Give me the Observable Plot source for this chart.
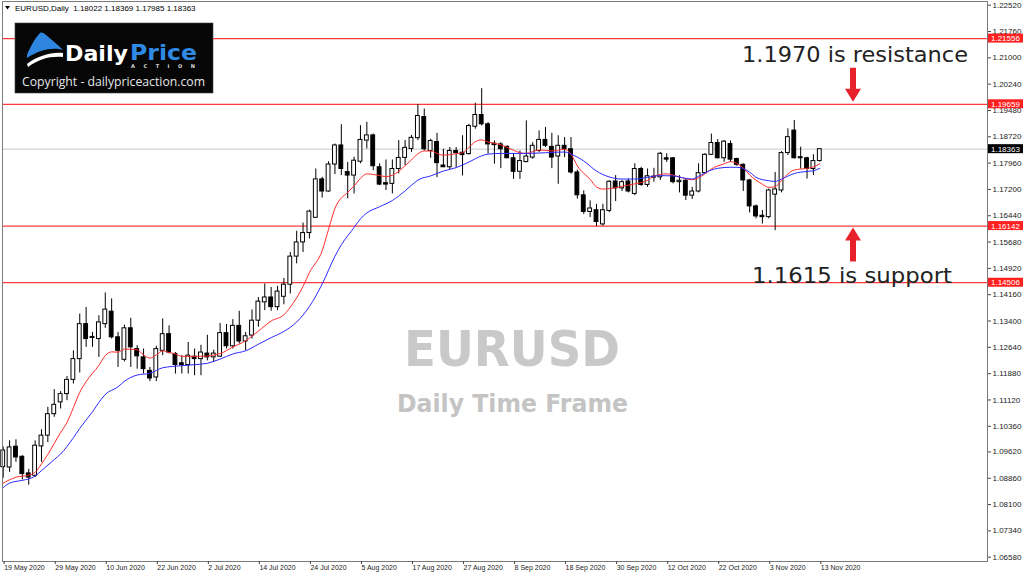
<!DOCTYPE html>
<html><head><meta charset="utf-8">
<script src="https://cdn.jsdelivr.net/npm/d3@7"></script>
<script src="https://cdn.jsdelivr.net/npm/@observablehq/plot@0.6"></script>
<style>body{margin:0;background:#fff;} #chart{width:1024px;height:577px;overflow:hidden}</style>
</head><body><div id="chart"></div>
<script>
// ---- Data (EURUSD daily, 19 May 2020 - 13 Nov 2020) ----
const openP  = [1.0918,1.0917,1.0977,1.0948,1.0900,1.0893,1.0978,1.1009,1.1071,1.1105,1.1129,1.1170,1.1230,1.1331,1.1291,1.1288,1.1331,1.1367,1.1293,1.1228,1.1319,1.1259,1.1235,1.1196,1.1177,1.1254,1.1302,1.1245,1.1218,1.1213,1.1237,1.1230,1.1246,1.1235,1.1237,1.1305,1.1267,1.1326,1.1281,1.1298,1.1341,1.1394,1.1408,1.1380,1.1410,1.1445,1.1526,1.1567,1.1594,1.1638,1.1749,1.1714,1.1792,1.1847,1.1770,1.1760,1.1800,1.1861,1.1876,1.1784,1.1738,1.1736,1.1779,1.1811,1.1837,1.1868,1.1929,1.1831,1.1857,1.1789,1.1784,1.1831,1.1826,1.1822,1.1901,1.1935,1.1908,1.1852,1.1850,1.1843,1.1810,1.1771,1.1799,1.1812,1.1831,1.1863,1.1843,1.1815,1.1846,1.1836,1.1769,1.1703,1.1655,1.1660,1.1619,1.1658,1.1743,1.1723,1.1743,1.1707,1.1779,1.1733,1.1754,1.1755,1.1810,1.1810,1.1741,1.1745,1.1702,1.1714,1.1767,1.1820,1.1854,1.1810,1.1851,1.1808,1.1791,1.1746,1.1671,1.1644,1.1640,1.1705,1.1717,1.1825,1.1890,1.1813,1.1810,1.1779,1.18022];
const highP  = [1.0976,1.0994,1.0997,1.0951,1.0912,1.0994,1.1026,1.1091,1.1142,1.1136,1.1180,1.1254,1.1360,1.1379,1.1307,1.1355,1.1421,1.1404,1.1307,1.1328,1.1348,1.1269,1.1259,1.1206,1.1267,1.1346,1.1326,1.1249,1.1240,1.1278,1.1259,1.1270,1.1299,1.1256,1.1333,1.1330,1.1344,1.1368,1.1307,1.1372,1.1408,1.1447,1.1437,1.1440,1.1463,1.1538,1.1599,1.1623,1.1660,1.1779,1.1755,1.1800,1.1851,1.1907,1.1798,1.1813,1.1904,1.1914,1.1880,1.1794,1.1805,1.1805,1.1861,1.1861,1.1876,1.1965,1.1952,1.1865,1.1882,1.1836,1.1841,1.1841,1.1875,1.1908,1.1969,1.2011,1.1913,1.1860,1.1855,1.1846,1.1822,1.1831,1.1918,1.1855,1.1889,1.1899,1.1882,1.1875,1.1870,1.1870,1.1776,1.1716,1.1687,1.1677,1.1677,1.1745,1.1760,1.1746,1.1750,1.1794,1.1784,1.1779,1.1781,1.1827,1.1823,1.1812,1.1760,1.1750,1.1726,1.1794,1.1823,1.1880,1.1864,1.1861,1.1860,1.1810,1.1794,1.1749,1.1675,1.1659,1.1721,1.1769,1.1829,1.1895,1.1919,1.1842,1.1813,1.1820,1.18369];
const lowP   = [1.0886,1.0903,1.0932,1.0881,1.0866,1.0888,1.0932,1.0989,1.1062,1.1086,1.1110,1.1158,1.1190,1.1264,1.1264,1.1235,1.1319,1.1288,1.1206,1.1222,1.1206,1.1201,1.1187,1.1165,1.1165,1.1240,1.1245,1.1187,1.1187,1.1187,1.1182,1.1182,1.1225,1.1220,1.1235,1.1259,1.1259,1.1274,1.1254,1.1288,1.1322,1.1370,1.1368,1.1370,1.1387,1.1418,1.1505,1.1538,1.1577,1.1638,1.1695,1.1712,1.1763,1.1760,1.1693,1.1707,1.1794,1.1837,1.1774,1.1731,1.1717,1.1707,1.1765,1.1789,1.1827,1.1861,1.1831,1.1810,1.1754,1.1783,1.1776,1.1783,1.1759,1.1819,1.1894,1.1903,1.1822,1.1793,1.1780,1.1809,1.1749,1.1749,1.1797,1.1807,1.1826,1.1841,1.1780,1.1735,1.1812,1.1764,1.1692,1.1648,1.1639,1.1613,1.1614,1.1653,1.1685,1.1714,1.1710,1.1702,1.1729,1.1726,1.1741,1.1746,1.1798,1.1736,1.1710,1.1688,1.1691,1.1710,1.1765,1.1818,1.1808,1.1798,1.1798,1.1787,1.1714,1.1652,1.1635,1.1620,1.1635,1.1601,1.1710,1.1818,1.1808,1.1779,1.1750,1.1760,1.17985];
const closeP = [1.0966,1.0975,1.0946,1.0898,1.0888,1.0980,1.1009,1.1071,1.1098,1.1129,1.1170,1.1230,1.1331,1.1288,1.1294,1.1336,1.1373,1.1293,1.1254,1.1319,1.1264,1.1238,1.1201,1.1174,1.1259,1.1302,1.1249,1.1213,1.1213,1.1240,1.1230,1.1249,1.1235,1.1246,1.1305,1.1267,1.1326,1.1281,1.1296,1.1341,1.1396,1.1408,1.1380,1.1425,1.1445,1.1526,1.1567,1.1594,1.1656,1.1749,1.1714,1.1792,1.1847,1.1779,1.1760,1.1803,1.1863,1.1876,1.1787,1.1734,1.1734,1.1779,1.1811,1.1840,1.1869,1.1932,1.1836,1.1860,1.1796,1.1784,1.1831,1.1825,1.1819,1.1903,1.1935,1.1908,1.1850,1.1848,1.1836,1.1810,1.1771,1.1802,1.1815,1.1846,1.1863,1.1846,1.1812,1.1846,1.1836,1.1769,1.1703,1.1655,1.1665,1.1626,1.1660,1.1742,1.1723,1.1741,1.1714,1.1779,1.1733,1.1758,1.1757,1.1823,1.1806,1.1741,1.1745,1.1702,1.1714,1.1767,1.1820,1.1854,1.1810,1.1858,1.1806,1.1791,1.1746,1.1671,1.1642,1.1640,1.1717,1.1720,1.1825,1.1871,1.1810,1.1810,1.1779,1.1802,1.18363];

// moving averages read at sampled bars (bar number, price)
const redBar  = [0,2,4,5,6,7,9,10,11,12,13,15,16,17,18,19,21,22,23,24,25,26,27,28,31,34,36,38,40,42,44,45,47,48,50,51,52,54,55,56,57,59,60,62,63,64,65,66,67,68,69,71,72,73,74,75,76,78,80,81,82,84,86,88,89,90,92,93,94,96,97,99,101,102,104,106,108,110,111,113,114,116,117,119,120,121,122,123,124,126,127,128];
const redMA   = [1.0872,1.0889,1.0895,1.0903,1.0927,1.0955,1.1018,1.1047,1.1090,1.1134,1.1165,1.1212,1.1240,1.1251,1.1250,1.1259,1.1257,1.1242,1.1233,1.1242,1.1254,1.1249,1.1245,1.1238,1.1238,1.1246,1.1265,1.1283,1.1311,1.1340,1.1358,1.1380,1.1440,1.1480,1.1543,1.1605,1.1665,1.1712,1.1730,1.1752,1.1765,1.1760,1.1757,1.1772,1.1789,1.1805,1.1823,1.1831,1.1831,1.1824,1.1819,1.1823,1.1826,1.1841,1.1858,1.1863,1.1857,1.1849,1.1833,1.1826,1.1824,1.1834,1.1831,1.1836,1.1822,1.1788,1.1749,1.1727,1.1721,1.1725,1.1729,1.1736,1.1746,1.1758,1.1765,1.1756,1.1748,1.1765,1.1779,1.1794,1.1800,1.1782,1.1762,1.1735,1.1726,1.1728,1.1746,1.1765,1.1776,1.1781,1.1785,1.1794];
const blueBar = [0,1,3,4,5,6,8,9,11,12,14,15,16,18,19,21,23,25,28,30,32,34,36,38,40,42,44,46,48,50,52,53,55,56,57,59,61,63,64,65,67,69,71,73,75,76,78,82,85,88,89,91,93,95,97,99,101,103,105,107,108,109,111,112,114,115,117,118,120,121,122,124,125,127,128];
const blueMA  = [1.0859,1.0872,1.0880,1.0884,1.0892,1.0908,1.0940,1.0956,1.1003,1.1030,1.1078,1.1105,1.1128,1.1150,1.1166,1.1184,1.1189,1.1205,1.1211,1.1214,1.1218,1.1230,1.1245,1.1254,1.1273,1.1292,1.1310,1.1337,1.1382,1.1447,1.1527,1.1560,1.1610,1.1635,1.1652,1.1670,1.1688,1.1716,1.1732,1.1747,1.1759,1.1773,1.1783,1.1799,1.1817,1.1822,1.1824,1.1824,1.1826,1.1828,1.1822,1.1802,1.1773,1.1756,1.1750,1.1750,1.1755,1.1760,1.1759,1.1752,1.1750,1.1758,1.1776,1.1781,1.1784,1.1784,1.1770,1.1755,1.1745,1.1743,1.1750,1.1766,1.1770,1.1774,1.1781];

const tickBars   = [0,8,16,24,32,40,48,56,64,72,80,88,96,104,112,120,128];
const tickLabels = ["19 May 2020","29 May 2020","10 Jun 2020","22 Jun 2020","2 Jul 2020","14 Jul 2020","24 Jul 2020","5 Aug 2020","17 Aug 2020","27 Aug 2020","8 Sep 2020","18 Sep 2020","30 Sep 2020","12 Oct 2020","22 Oct 2020","3 Nov 2020","13 Nov 2020"];
const priceTicks = [1.22520,1.21760,1.21000,1.20240,1.19480,1.18720,1.17960,1.17200,1.16440,1.15680,1.14920,1.14160,1.13400,1.12640,1.11880,1.11120,1.10360,1.09620,1.08860,1.08100,1.07340,1.06580];
const levels     = [1.21556,1.19659,1.16142,1.14506];
const lastPrice  = 1.18363;
const headerText = "EURUSD,Daily  1.18022 1.18369 1.17985 1.18363";

// ---- Build ----
const candles = openP.map((o,i)=>({bar:i,o,h:highP[i],l:lowP[i],c:closeP[i],up:closeP[i]>=o}));
const redPts  = redBar.map((b,k)=>({bar:b,v:redMA[k]}));
const bluePts = blueBar.map((b,k)=>({bar:b,v:blueMA[k]}));

const plot = Plot.plot({
  width:1024, height:577,
  marginLeft:2, marginRight:37, marginTop:1, marginBottom:16,
  x:{domain:[0,128], range:[2.7,819.3], axis:null},
  y:{domain:[1.06580,1.22520], range:[556.7,4.7], axis:null},
  style:{fontFamily:"'Liberation Sans', Arial, sans-serif", background:"#fff", color:"#000", overflow:"visible"},
  marks:[
    Plot.ruleY([lastPrice],{stroke:"#c8c8c8", strokeWidth:1}),
    Plot.ruleY(levels,{stroke:"#ff3a3a", strokeWidth:1.2}),
    Plot.ruleX(candles,{x:"bar", y1:"l", y2:"h", stroke:"#000", strokeWidth:1}),
    Plot.rect(candles,{x1:d=>d.bar-0.3, x2:d=>d.bar+0.3, y1:"o", y2:"c", fill:d=>d.up?"#fff":"#000", stroke:"#000", strokeWidth:1}),
    Plot.line(redPts,{x:"bar", y:"v", stroke:"#ff2b2b", strokeWidth:1, curve:"monotone-x"}),
    Plot.line(bluePts,{x:"bar", y:"v", stroke:"#2b2bff", strokeWidth:1, curve:"monotone-x"}),
    Plot.frame({stroke:"#7a7a7a"}),
    Plot.axisY(priceTicks,{anchor:"right", label:null, tickSize:3, tickPadding:2, tickFormat:d=>d.toFixed(5), fontSize:8, fill:"#222", stroke:"#444"}),
    Plot.axisX(tickBars,{anchor:"bottom", label:null, tickSize:3, tickPadding:1, textAnchor:"start", dx:1, fontSize:7, fill:"#222", stroke:"#444",
      tickFormat:d=>tickLabels[tickBars.indexOf(d)]})
  ]
});
document.getElementById("chart").appendChild(plot);

const ys = plot.scale("y");
const svg = d3.select(plot);
const g = svg.append("g").attr("text-anchor","start");
const SANS = "'Liberation Sans', Arial, sans-serif";
const DEJA = "'DejaVu Sans', sans-serif";

// price label boxes on the right axis
function priceBox(v, bg){
  const yy = ys.apply(v);
  g.append("rect").attr("x",988).attr("y",yy-4.5).attr("width",35).attr("height",9).attr("fill",bg);
  g.append("text").attr("x",991).attr("y",yy+3).attr("text-anchor","start").attr("fill","#fff").attr("font-size",8)
   .attr("font-family",SANS).text(v.toFixed(5));
}
levels.forEach(v=>priceBox(v,"#ff2020"));
priceBox(lastPrice,"#000");

// header
g.append("path").attr("d","M5,6 L10,6 L7.5,9.5 Z").attr("fill","#000");
g.append("text").attr("x",15).attr("y",11).attr("text-anchor","start").attr("font-size",8).attr("fill","#000")
 .attr("font-family",SANS).attr("xml:space","preserve").text(headerText);

// logo
const lg = g.append("g");
lg.append("rect").attr("x",15).attr("y",23).attr("width",198).attr("height",70).attr("fill","#060606").attr("stroke","#444").attr("stroke-width",0.6);
lg.append("path").attr("d","M27,55 C31,45 36,37 40,33 C42,32 44,33 46,35 C52,40 58,45 63,50 C54,47 40,49 27,58 Z").attr("fill","#2f86e0");
lg.append("path").attr("d","M27,64 C38,56 50,52 63,53 L63,57 C50,56 39,59 28,67 Z").attr("fill","#ffffff");
lg.append("text").attr("x",65).attr("y",61).attr("text-anchor","start").attr("font-size",21).attr("font-weight","bold").attr("fill","#fff")
  .attr("font-family",DEJA).attr("textLength",63).attr("lengthAdjust","spacingAndGlyphs").text("Daily");
lg.append("text").attr("x",130).attr("y",60).attr("text-anchor","start").attr("font-size",21).attr("font-weight","bold").attr("fill","#2f8ae6")
  .attr("font-family",DEJA).attr("textLength",67).attr("lengthAdjust","spacingAndGlyphs").text("Price");
lg.append("text").attr("x",131).attr("y",68).attr("text-anchor","start").attr("font-size",5).attr("font-weight","bold").attr("fill","#ddd")
  .attr("font-family",DEJA).attr("textLength",64).attr("lengthAdjust","spacing").text("ACTION");
lg.append("text").attr("x",22).attr("y",86).attr("text-anchor","start").attr("font-size",12).attr("fill","#e6e6e6")
  .attr("font-family","'Open Sans', sans-serif").attr("textLength",183).attr("lengthAdjust","spacingAndGlyphs").text("Copyright - dailypriceaction.com");

// annotations
const yRes = ys.apply(levels[1]), ySup = ys.apply(levels[2]);
g.append("text").attr("x",742).attr("y",62).attr("text-anchor","start").attr("font-size",22).attr("fill","#222")
 .attr("font-family",DEJA).attr("textLength",226).attr("lengthAdjust","spacingAndGlyphs").text("1.1970 is resistance");
g.append("text").attr("x",752).attr("y",283).attr("text-anchor","start").attr("font-size",22).attr("fill","#222")
 .attr("font-family",DEJA).attr("textLength",200).attr("lengthAdjust","spacingAndGlyphs").text("1.1615 is support");
const ax = 853;
g.append("path").attr("d",`M${ax-3},${yRes-36} L${ax+3},${yRes-36} L${ax+3},${yRes-15} L${ax+8},${yRes-15} L${ax},${yRes-2} L${ax-8},${yRes-15} L${ax-3},${yRes-15} Z`).attr("fill","#e8222a");
g.append("path").attr("d",`M${ax-3},${ySup+36} L${ax+3},${ySup+36} L${ax+3},${ySup+15} L${ax+8},${ySup+15} L${ax},${ySup+2} L${ax-8},${ySup+15} L${ax-3},${ySup+15} Z`).attr("fill","#e8222a");

// watermark
g.append("text").attr("x",404).attr("y",366).attr("text-anchor","start").attr("font-size",50).attr("font-weight","bold")
 .attr("fill","#c9c9c9").attr("font-family",DEJA).attr("textLength",216).attr("lengthAdjust","spacingAndGlyphs").text("EURUSD");
g.append("text").attr("x",397).attr("y",412).attr("text-anchor","start").attr("font-size",25).attr("font-weight","bold")
 .attr("fill","#c4c4c4").attr("font-family",DEJA).attr("textLength",231).attr("lengthAdjust","spacingAndGlyphs").text("Daily Time Frame");
</script>
</body></html>
